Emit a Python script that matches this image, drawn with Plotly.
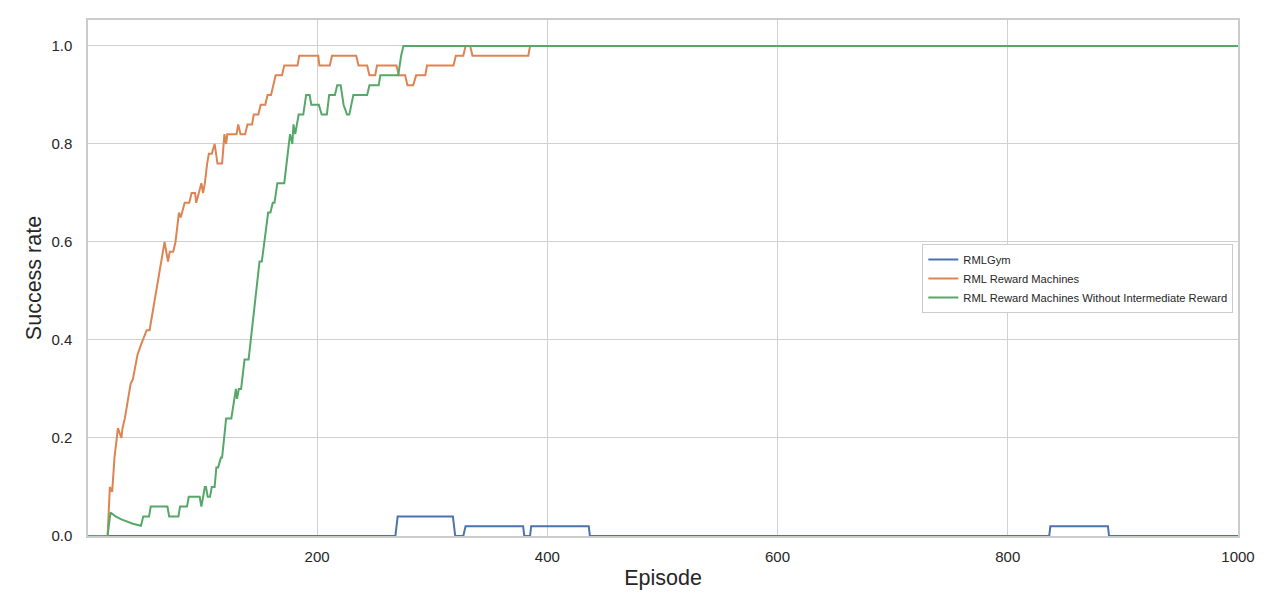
import plotly.graph_objects as go

# RMLGym (blue)
gym_x = [1, 268, 270, 318, 320, 327, 329, 379, 380, 385, 386, 436, 437, 836, 837, 887, 888, 1000]
gym_y = [0, 0, 0.04, 0.04, 0, 0, 0.02, 0.02, 0, 0, 0.02, 0.02, 0, 0, 0.02, 0.02, 0, 0]

# RML Reward Machines (orange)
rm_x = [1, 18, 20, 22, 24, 27, 30, 31, 33, 36, 38, 40, 44, 47, 52, 54.5, 56, 60, 63, 65, 67.5, 70.5, 72,
        75, 77, 80, 81.5, 85, 89, 91, 94, 95, 97, 99.5, 101, 102.5, 104.5, 106, 108.5, 111, 113.5, 117.5,
        119.5, 121, 122, 130, 131.5, 133.5, 137.5, 139.5, 143.5, 145, 149, 151, 155, 157, 160, 162, 164,
        169.5, 171.5, 183, 184.5, 201, 202, 211, 213, 234, 236, 243.5, 245.5, 250.5, 252, 269, 271,
        276.5, 278.5, 283.5, 286, 294, 295.5, 318.5, 320.5, 327, 329, 333, 335, 383.5, 385, 1000]
rm_y = [0, 0, 0.10, 0.09, 0.16, 0.22, 0.20, 0.22, 0.24, 0.28, 0.31, 0.32, 0.37, 0.39, 0.42, 0.42, 0.44,
        0.50, 0.54, 0.56, 0.60, 0.56, 0.58, 0.58, 0.60, 0.66, 0.65, 0.68, 0.68, 0.70, 0.70, 0.68, 0.70,
        0.72, 0.70, 0.72, 0.76, 0.78, 0.78, 0.80, 0.76, 0.76, 0.82, 0.80, 0.82, 0.82, 0.84, 0.82, 0.82,
        0.84, 0.84, 0.86, 0.86, 0.88, 0.88, 0.90, 0.90, 0.92, 0.94, 0.94, 0.96, 0.96, 0.98, 0.98, 0.96,
        0.96, 0.98, 0.98, 0.96, 0.96, 0.94, 0.94, 0.96, 0.96, 0.94, 0.94, 0.92, 0.92, 0.94, 0.94, 0.96,
        0.96, 0.98, 0.98, 1.0, 1.0, 0.98, 0.98, 1.0, 1.0]

# RML Reward Machines Without Intermediate Reward (green)
nir_x = [1, 18, 20.5, 25, 30, 35, 40, 47, 49, 54, 55.5, 70, 71.5, 79.5, 81, 87, 88.5, 98, 99.5, 102.5,
         103.5, 105, 107, 108.5, 111, 112.5, 114, 116.5, 117.5, 121, 125.5, 129.5, 130.5, 132, 134, 137,
         140.5, 150, 152, 157.5, 159.5, 161.5, 163, 165.5, 171.5, 176.5, 178.5, 179.5, 181, 184, 188,
         190.5, 193.5, 195, 201.5, 204, 208.5, 210.5, 215.5, 217.5, 220.5, 223, 224.5, 226, 228, 231.5,
         243.5, 245.5, 253.5, 255, 270.5, 273, 275, 1000]
nir_y = [0, 0, 0.048, 0.040, 0.034, 0.029, 0.025, 0.021, 0.04, 0.04, 0.06, 0.06, 0.04, 0.04, 0.06, 0.06,
         0.08, 0.08, 0.06, 0.10, 0.10, 0.08, 0.08, 0.10, 0.10, 0.14, 0.14, 0.16, 0.16, 0.24, 0.24, 0.30,
         0.28, 0.30, 0.30, 0.36, 0.36, 0.56, 0.56, 0.66, 0.66, 0.68, 0.68, 0.72, 0.72, 0.82, 0.80, 0.84,
         0.82, 0.86, 0.86, 0.90, 0.90, 0.88, 0.88, 0.86, 0.86, 0.90, 0.90, 0.92, 0.92, 0.88, 0.87, 0.86,
         0.86, 0.90, 0.90, 0.92, 0.92, 0.94, 0.94, 0.98, 1.0, 1.0]

series = [
    ("RMLGym", gym_x, gym_y, "#4C72B0"),
    ("RML Reward Machines", rm_x, rm_y, "#DD8452"),
    ("RML Reward Machines Without Intermediate Reward", nir_x, nir_y, "#55A868"),
]

fig = go.Figure()
for name, xs, ys, color in series:
    fig.add_trace(go.Scatter(x=xs, y=ys, mode="lines", name=name,
                             line=dict(color=color, width=2)))

FONT = "Liberation Sans, Arial, sans-serif"
axis_common = dict(
    showgrid=True, gridcolor="#d0d0d0", gridwidth=1,
    showline=True, mirror=True, linecolor="#cccccc", linewidth=1.5,
    zeroline=False, ticks="", automargin=False,
    tickfont=dict(size=15, color="#262626", family=FONT),
    title_font=dict(size=21.5, color="#262626", family=FONT),
)

# page body has an 8px margin, so shift the plot area up/left by 8px
fig.update_layout(
    width=1280, height=612,
    margin=dict(l=80, r=50, t=12, b=84),
    plot_bgcolor="white", paper_bgcolor="white",
    font=dict(family=FONT, color="#262626"),
    xaxis=dict(range=[1, 1000], tickvals=[200, 400, 600, 800, 1000],
               title_text="Episode", title_standoff=6, ticklabelstandoff=6, **axis_common),
    yaxis=dict(range=[0, 1.053], tickvals=[0, 0.2, 0.4, 0.6, 0.8, 1.0], tickformat=".1f",
               title_text="Success rate", title_standoff=4, ticklabelstandoff=11, **axis_common),
    legend=dict(x=0.7255, y=0.499, xanchor="left", yanchor="middle",
                bgcolor="white", bordercolor="#cccccc", borderwidth=1,
                font=dict(size=11.2, color="#262626"), tracegroupgap=0),
    showlegend=True,
)

fig.write_html("out.html")
